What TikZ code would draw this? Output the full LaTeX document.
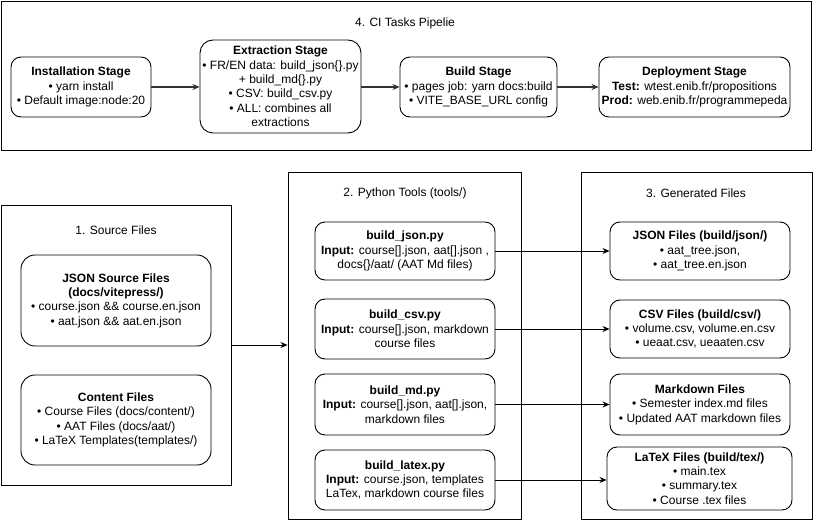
\documentclass[tikz,border=0pt]{standalone}
\usepackage{fontspec}
\setmainfont{Liberation Sans}
\usetikzlibrary{arrows.meta}
\begin{document}
\begin{tikzpicture}[x=1pt,y=-1pt,
  every node/.style={font=\fontsize{12}{14.4}\selectfont},
  container/.style={draw=black, line width=0.9pt, inner sep=0pt},
  titletext/.style={inner sep=0pt},
  stagebox/.style={draw=black, line width=0.9pt, rounded corners=10pt, align=center, inner sep=0pt},
  flow/.style={draw=black, line width=0.9pt, -{Stealth[length=7pt,width=6pt]}},
  flowtop/.style={draw=black!80, line width=1.3pt, -{Stealth[length=7pt,width=6pt]}}
]
\useasboundingbox (0,0) rectangle (814,521);
\fill[white] (0,0) rectangle (814,521);

% CI container
\node[container, minimum width=810, minimum height=149] (ci) at (406,75.5) {};
\node[titletext] (cititle) at (405,23) {4. CI Tasks Pipelie};

\node[stagebox, minimum width=140, minimum height=60] (inst) at (81,87)
  {\textbf{Installation Stage}\\• yarn install\\• Default image:node:20};
\node[stagebox, minimum width=161, minimum height=93, rounded corners=13pt] (extr) at (280.5,86.5)
  {\textbf{Extraction Stage}\\• FR/EN data: build\_json\{\}.py\\+ build\_md\{\}.py\\• CSV: build\_csv.py\\• ALL: combines all\\extractions};
\node[stagebox, minimum width=157, minimum height=60] (bld) at (478.5,87)
  {\textbf{Build Stage}\\• pages job: yarn docs:build\\• VITE\_BASE\_URL config};
\node[stagebox, minimum width=191, minimum height=60] (dep) at (694.5,87)
  {\textbf{Deployment Stage}\\\textbf{Test:} wtest.enib.fr/propositions\\\textbf{Prod:} web.enib.fr/programmepeda};

\draw[flowtop] (inst.east) -- (extr.west |- inst.east);
\draw[flowtop] (extr.east |- bld.west) -- (bld.west);
\draw[flowtop] (bld.east) -- (dep.west);

% Source files
\node[container, minimum width=230, minimum height=280] (src) at (116,345) {};
\node[titletext] (srctitle) at (116,230) {1. Source Files};
\node[stagebox, minimum width=190, minimum height=91, rounded corners=14pt] (jsonsrc) at (116,300.5)
  {\textbf{JSON Source Files}\\\textbf{(docs/vitepress/)}\\• course.json \&\& course.en.json\\• aat.json \&\& aat.en.json};
\node[stagebox, minimum width=190, minimum height=90, rounded corners=14pt] (content) at (116,420)
  {\textbf{Content Files}\\• Course Files (docs/content/)\\• AAT Files (docs/aat/)\\• LaTeX Templates(templates/)};

% Python tools
\node[container, minimum width=233, minimum height=347] (py) at (404.5,345.5) {};
\node[titletext] (pytitle) at (405,193) {2. Python Tools (tools/)};
\node[stagebox, minimum width=180, minimum height=58] (bjson) at (405,251)
  {\textbf{build\_json.py}\\\textbf{Input:} course[].json, aat[].json ,\\docs\{\}/aat/ (AAT Md files)};
\node[stagebox, minimum width=180, minimum height=60] (bcsv) at (405,329)
  {\textbf{build\_csv.py}\\\textbf{Input:} course[].json, markdown\\course files};
\node[stagebox, minimum width=180, minimum height=61] (bmd) at (405,404.5)
  {\textbf{build\_md.py}\\\textbf{Input:} course[].json, aat[].json,\\markdown files};
\node[stagebox, minimum width=180, minimum height=60] (blatex) at (405,480)
  {\textbf{build\_latex.py}\\\textbf{Input:} course.json, templates\\LaTex, markdown course files};

% Generated files
\node[container, minimum width=231, minimum height=347] (gen) at (696.5,345.5) {};
\node[titletext] (gentitle) at (696,193) {3. Generated Files};
\node[stagebox, minimum width=180, minimum height=58] (jsonf) at (700,251)
  {\textbf{JSON Files (build/json/)}\\• aat\_tree.json,\\• aat\_tree.en.json};
\node[stagebox, minimum width=180, minimum height=58] (csvf) at (700,329)
  {\textbf{CSV Files (build/csv/)}\\• volume.csv, volume.en.csv\\• ueaat.csv, ueaaten.csv};
\node[stagebox, minimum width=180, minimum height=61] (mdf) at (700,404.5)
  {\textbf{Markdown Files}\\• Semester index.md files\\• Updated AAT markdown files};
\node[stagebox, minimum width=185, minimum height=63] (latexf) at (699.5,478.5)
  {\textbf{LaTeX Files (build/tex/)}\\• main.tex\\• summary.tex\\• Course .tex files};

% connectors
\draw[flow] (src.east) -- (src.east -| py.west);
\draw[flow] (bjson.east) -- (jsonf.west);
\draw[flow] (bcsv.east) -- (csvf.west);
\draw[flow] (bmd.east) -- (mdf.west);
\draw[flow] (blatex.east) -- (blatex.east -| latexf.west);
\end{tikzpicture}
\end{document}
